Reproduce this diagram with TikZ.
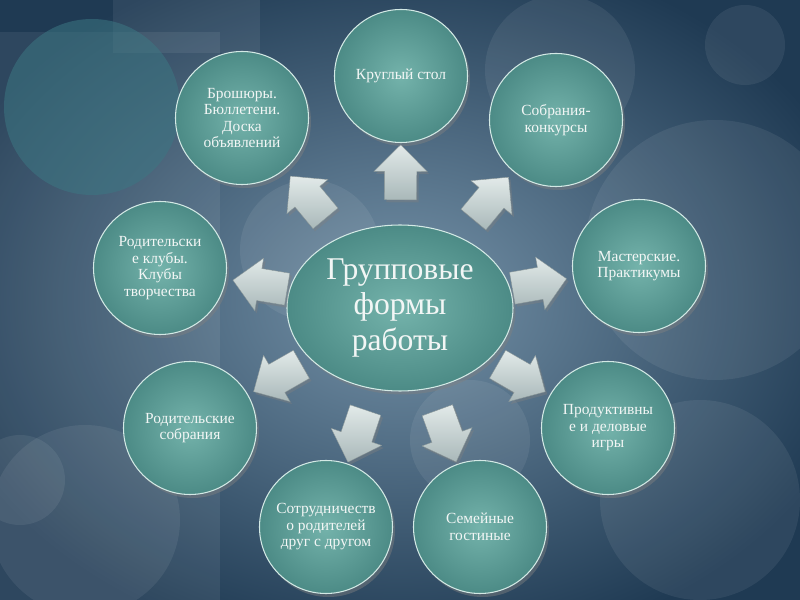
\documentclass[tikz,border=0pt]{standalone}
\usepackage{fontspec}
\setmainfont{Liberation Serif}
\usetikzlibrary{shapes.geometric,shapes.arrows,shadows,calc}

\definecolor{bgdark}{HTML}{1F3A53}
\definecolor{bglight}{HTML}{7693A9}
\definecolor{tealin}{HTML}{74B3AB}
\definecolor{tealout}{HTML}{4C8B86}
\definecolor{rimcol}{HTML}{D3E9E5}
\definecolor{silverlt}{HTML}{E2EAE9}
\definecolor{silverdk}{HTML}{A9B8B9}
\definecolor{txtcol}{HTML}{F2F6F5}
\definecolor{decoteal}{HTML}{3C7783}

\tikzset{
  form/.style={circle, minimum size=26.6mm, inner sep=0pt, align=center,
    inner color=tealin, outer color=tealout, draw=rimcol, line width=0.6pt,
    drop shadow={opacity=0.45, shadow xshift=0.5mm, shadow yshift=-0.7mm},
    text=txtcol, font=\fontsize{8.8}{9.4}\selectfont},
  hub/.style={ellipse, minimum width=45.2mm, minimum height=33.2mm, inner sep=0pt,
    align=center, inner color=tealin, outer color=tealout, draw=rimcol,
    line width=0.6pt,
    drop shadow={opacity=0.45, shadow xshift=0.5mm, shadow yshift=-0.7mm},
    text=txtcol, font=\fontsize{18}{20}\selectfont},
  spoke/.style={single arrow, minimum height=11mm, inner xsep=0pt, inner ysep=3.2mm,
    single arrow head extend=2.1mm, single arrow tip angle=90,
    top color=silverlt, bottom color=silverdk, draw=silverdk!80!black, line width=0.2pt,
    drop shadow={opacity=0.4, shadow xshift=0.4mm, shadow yshift=-0.5mm}},
  deco/.style={fill=#1, fill opacity=0.07}
}

\begin{document}
\begin{tikzpicture}[x=0.2mm,y=-0.2mm]
\useasboundingbox (0,0) rectangle (800,600);
\clip (0,0) rectangle (800,600);
\shade[inner color=bglight, outer color=bgdark] (-80,-60) rectangle (880,660);

% background decoration
\fill[deco=white] (0,32) rectangle (220,600);
\fill[deco=white] (113,0) rectangle (260,53);
\fill[decoteal, fill opacity=0.55] (92,107) circle (88);
\fill[deco=white] (85,520) circle (95);
\fill[deco=white] (20,480) circle (45);
\fill[deco=white] (715,250) circle (130);
\fill[deco=white] (700,500) circle (100);
\fill[deco=white] (745,45) circle (40);
\fill[deco=white] (560,70) circle (75);
\fill[deco=white] (310,250) circle (70);
\fill[deco=white] (470,440) circle (60);

\node[hub] (grp) at (400,308) {Групповые\\формы\\работы};

\node[form] (f1) at (401,76) {Круглый стол};
\node[form] (f2) at (556,120) {Собрания-\\конкурсы};
\node[form] (f3) at (639,266) {Мастерские.\\Практикумы};
\node[form] (f4) at (608,428) {Продуктивны\\е и деловые\\игры};
\node[form] (f5) at (480,527) {Семейные\\гостиные};
\node[form] (f6) at (326,527) {Сотрудничеств\\о родителей\\друг с другом};
\node[form] (f7) at (190,428) {Родительские\\собрания};
\node[form] (f8) at (160,268) {Родительски\\е клубы.\\Клубы\\творчества};
\node[form] (f9) at (242,118) {Брошюры.\\Бюллетени.\\Доска\\объявлений};

% arrows from the hub to each form
\foreach \i in {1,...,9}
  \path let \p1 = ($(f\i)-(grp)$) in
    node[spoke, rotate={atan2(\y1,\x1)}] (a\i) at ($(grp)!0.55!(f\i)$) {};
\end{tikzpicture}
\end{document}
